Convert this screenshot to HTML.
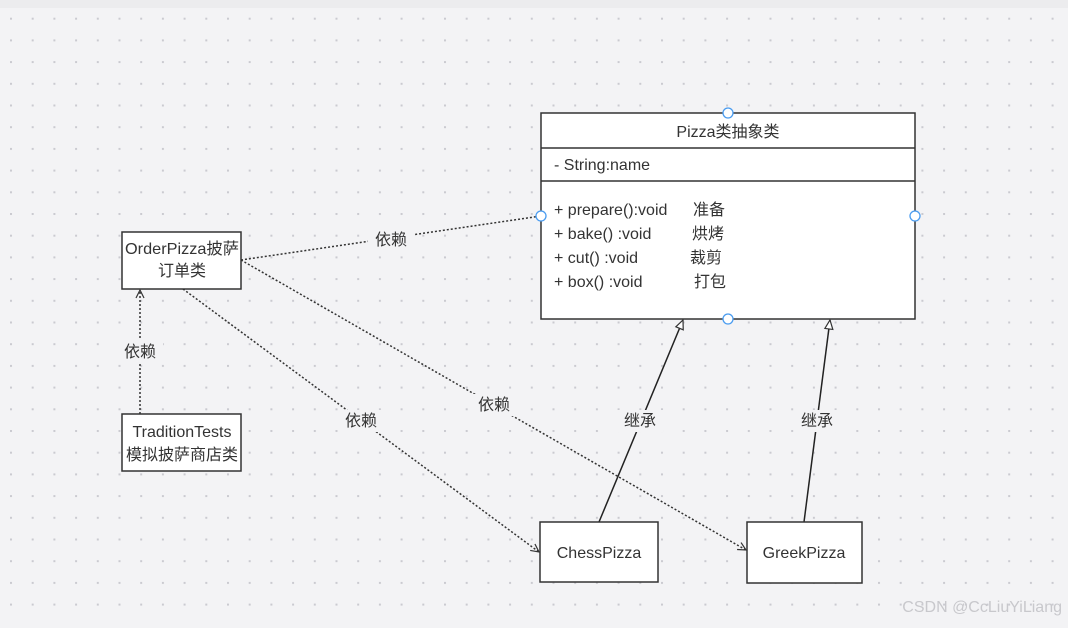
<!DOCTYPE html>
<html><head><meta charset="utf-8"><style>
body{margin:0;width:1068px;height:623px;overflow:hidden;background:#f3f3f5;}
text{font-family:"Liberation Sans","Noto Sans CJK SC",sans-serif;fill:#333;}
</style></head><body>
<svg width="1068" height="623" xmlns="http://www.w3.org/2000/svg">
<defs>
<pattern id="d" x="10" y="-4" width="21.7" height="21.7" patternUnits="userSpaceOnUse">
<rect x="0" y="0" width="2" height="2" fill="#cacad0"/></pattern>
<marker id="oa" markerWidth="10" markerHeight="10" refX="9" refY="5" orient="auto" markerUnits="userSpaceOnUse">
<path d="M1,1 L9,5 L1,9" fill="none" stroke="#333" stroke-width="1.2"/></marker>
<marker id="tri" markerWidth="12" markerHeight="12" refX="10" refY="6" orient="auto" markerUnits="userSpaceOnUse">
<path d="M1,2 L10,6 L1,10 Z" fill="#fff" stroke="#333" stroke-width="1.2"/></marker>
</defs>
<rect width="1068" height="623" fill="url(#d)"/>
<rect width="1068" height="8" fill="#ececee"/>
<g stroke="#333" stroke-width="1.5" stroke-dasharray="2,2" fill="none">
<line x1="241" y1="260" x2="541" y2="216"/>
<line x1="183" y1="289" x2="539" y2="552" marker-end="url(#oa)"/>
<line x1="241" y1="260" x2="746" y2="550" marker-end="url(#oa)"/>
<line x1="140" y1="414" x2="140" y2="290" marker-end="url(#oa)"/>
</g>
<g stroke="#222" stroke-width="1.5">
<line x1="599" y1="522" x2="683" y2="320" marker-end="url(#tri)"/>
<line x1="804" y1="522" x2="830" y2="320" marker-end="url(#tri)"/>
</g>
<g font-size="16" text-anchor="middle">
<rect x="368" y="228" width="46" height="22" fill="#f3f3f5"/><text x="391" y="245">依赖</text>
<rect x="117" y="340" width="46" height="22" fill="#f3f3f5"/><text x="140" y="357">依赖</text>
<rect x="338" y="410" width="46" height="22" fill="#f3f3f5"/><text x="361" y="426">依赖</text>
<rect x="471" y="394" width="46" height="22" fill="#f3f3f5"/><text x="494" y="410">依赖</text>
<rect x="617" y="410" width="46" height="22" fill="#f3f3f5"/><text x="640" y="426">继承</text>
<rect x="794" y="410" width="46" height="22" fill="#f3f3f5"/><text x="817" y="426">继承</text>
</g>
<g fill="#fff" stroke="#333" stroke-width="1.5">
<rect x="541" y="113" width="374" height="206"/>
<line x1="541" y1="148" x2="915" y2="148"/>
<line x1="541" y1="181" x2="915" y2="181"/>
<rect x="122" y="232" width="119" height="57"/>
<rect x="122" y="414" width="119" height="57"/>
<rect x="540" y="522" width="118" height="60"/>
<rect x="747" y="522" width="115" height="61"/>
</g>
<g fill="#fff" stroke="#4a9cf0" stroke-width="1.3">
<circle cx="728" cy="113" r="5"/><circle cx="728" cy="319" r="5"/>
<circle cx="541" cy="216" r="5"/><circle cx="915" cy="216" r="5"/>
</g>
<g font-size="16">
<text x="728" y="137" text-anchor="middle">Pizza类抽象类</text>
<text x="554" y="170">- String:name</text>
<text x="554" y="215">+ prepare():void</text><text x="693" y="215">准备</text>
<text x="554" y="239">+ bake() :void</text><text x="692" y="239">烘烤</text>
<text x="554" y="263">+ cut() :void</text><text x="690" y="263">裁剪</text>
<text x="554" y="287">+ box() :void</text><text x="694" y="287">打包</text>
<g text-anchor="middle">
<text x="182" y="254" textLength="114" lengthAdjust="spacingAndGlyphs">OrderPizza披萨</text>
<text x="182" y="276">订单类</text>
<text x="182" y="437">TraditionTests</text>
<text x="182" y="460" textLength="112" lengthAdjust="spacingAndGlyphs">模拟披萨商店类</text>
<text x="599" y="558">ChessPizza</text>
<text x="804" y="558">GreekPizza</text>
</g>
</g>
<text x="1062" y="612" font-size="16" text-anchor="end" style="fill:#c8c8cc">CSDN @CcLiuYiLiang</text>
</svg>
</body></html>
